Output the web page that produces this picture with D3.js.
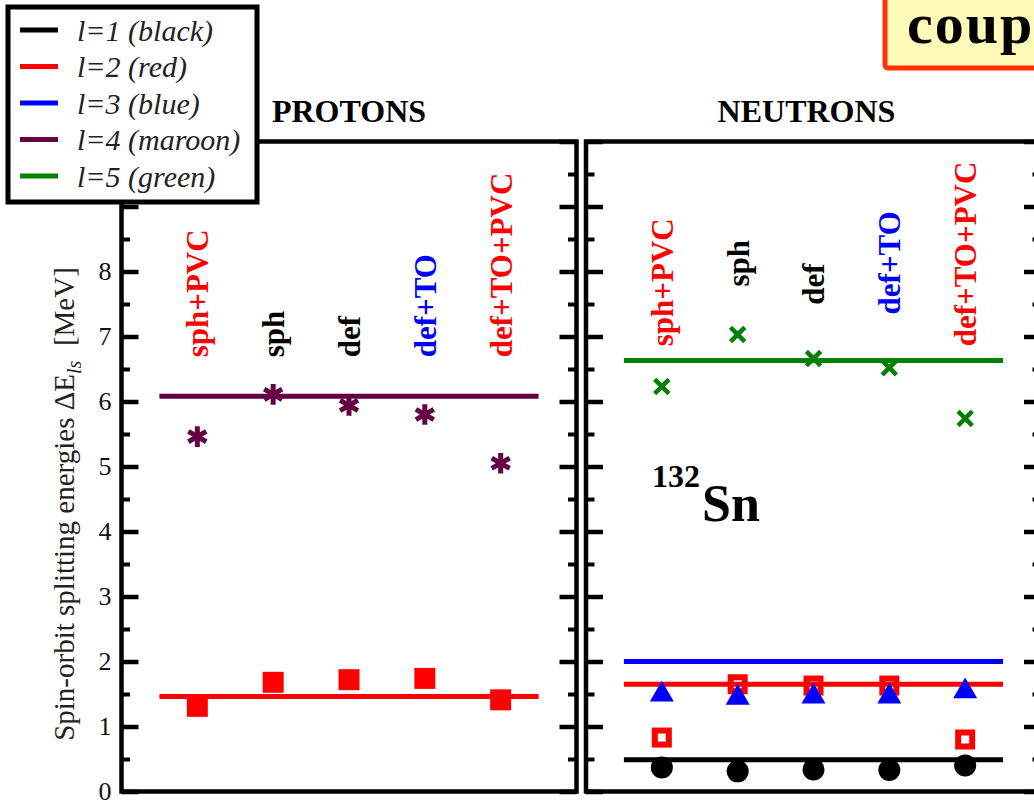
<!DOCTYPE html>
<meta charset="utf-8">
<title>132Sn spin-orbit splitting</title>
<style>

body { margin: 0; background: #fff; }

svg {
  display: block;
  font-family: "Liberation Serif", "Times New Roman", serif;
}

.frame {
  fill: none;
  stroke: #000;
  stroke-width: 4.5;
}

.axis path { display: none; }
.axis line { stroke: #000; stroke-width: 4.5; }
.axis.minor line { stroke-width: 4; }
.axis text {
  font-family: "Liberation Serif", serif;
  font-size: 26px;
  fill: #111;
}

.title { font-weight: bold; font-size: 32px; }
.method { font-weight: bold; font-size: 31px; }

</style>
<body>

<script src="https://d3js.org/d3.v7.min.js"></script>
<script>

// x categories (same for both panels)
var methods = ["sph+PVC", "sph", "def", "def+TO", "def+TO+PVC"];
var methodColors = ["#ff0000", "#000000", "#000000", "#0000ff", "#ff0000"];

// protons: spin-orbit splittings in MeV
var protonL4 = [5.46, 6.11, 5.94, 5.80, 5.05];
var protonL2 = [1.31, 1.68, 1.72, 1.74, 1.41];
var protonL4Exp = 6.08;
var protonL2Exp = 1.46;

// neutrons
var neutronL5 = [6.23, 7.03, 6.66, 6.52, 5.74];
var neutronL3 = [1.49, 1.44, 1.46, 1.46, 1.54];
var neutronL2 = [0.83, 1.65, 1.63, 1.63, 0.80];
var neutronL1 = [0.37, 0.31, 0.34, 0.33, 0.40];
var neutronL5Exp = 6.63;
var neutronL3Exp = 2.00;
var neutronL2Exp = 1.65;
var neutronL1Exp = 0.49;

// axis ticks
var majorTicks = [0, 1, 2, 3, 4, 5, 6, 7, 8, 9, 10];
var minorTicks = [0.5, 1.5, 2.5, 3.5, 4.5, 5.5, 6.5, 7.5, 8.5, 9.5];
var labelledTicks = [0, 1, 2, 3, 4, 5, 6, 7, 8];

// legend
var legendLabels = ["l=1 (black)", "l=2 (red)", "l=3 (blue)", "l=4 (maroon)", "l=5 (green)"];
var legendColors = ["#000000", "#ff0000", "#0000ff", "#660044", "#008000"];

var W = 1034, H = 803;
var panelWidth = 455;

var svg = d3.select("body").append("svg")
    .attr("width", W)
    .attr("height", H);

var y = d3.scaleLinear().domain([0, 10]).range([791.5, 141.5]);
var x = d3.scaleLinear().domain([0, 6]).range([0, panelWidth]);

function drawPanel(x0, title, titleX, labelBase, showLabels) {
  var g = svg.append("g").attr("transform", "translate(" + x0 + ",0)");

  // ticks on both sides, pointing inward
  g.append("g").attr("class", "axis")
      .call(d3.axisLeft(y).tickValues(majorTicks).tickSize(-17).tickPadding(10)
        .tickFormat(function(d) { return showLabels && labelledTicks.indexOf(d) >= 0 ? d : ""; }))
      .attr("font-family", "Liberation Serif, serif")
      .attr("font-size", 26);
  g.append("g").attr("class", "axis minor")
      .call(d3.axisLeft(y).tickValues(minorTicks).tickSize(-8.5).tickFormat(""));
  g.append("g").attr("class", "axis")
      .attr("transform", "translate(" + panelWidth + ",0)")
      .call(d3.axisRight(y).tickValues(majorTicks).tickSize(-17).tickFormat(""));
  g.append("g").attr("class", "axis minor")
      .attr("transform", "translate(" + panelWidth + ",0)")
      .call(d3.axisRight(y).tickValues(minorTicks).tickSize(-8.5).tickFormat(""));

  g.append("rect")
      .attr("class", "frame")
      .attr("x", 0)
      .attr("y", y(10))
      .attr("width", panelWidth)
      .attr("height", y(0) - y(10));

  g.append("text")
      .attr("class", "title")
      .attr("x", titleX)
      .attr("y", 122)
      .attr("text-anchor", "middle")
      .text(title);

  // method names, rotated
  g.selectAll(".method")
      .data(methods)
    .enter().append("text")
      .attr("class", "method")
      .attr("transform", function(d, i) {
        return "translate(" + x(i + 1) + "," + y(labelBase[i]) + ") rotate(-90)"; })
      .attr("dy", "0.35em")
      .style("fill", function(d, i) { return methodColors[i]; })
      .text(function(d) { return d; });

  return g;
}

function refLine(g, value, color) {
  g.append("line")
      .attr("x1", x(0.5))
      .attr("x2", x(5.5))
      .attr("y1", y(value))
      .attr("y2", y(value))
      .style("stroke", color)
      .style("stroke-width", 5);
}

function symbols(g, values, type, size, fill, stroke, sw) {
  g.append("g").selectAll("path")
      .data(values)
    .enter().append("path")
      .attr("transform", function(d, i) { return "translate(" + x(i + 1) + "," + y(d) + ")"; })
      .attr("d", d3.symbol().type(type).size(size))
      .style("fill", fill)
      .style("stroke", stroke)
      .style("stroke-width", sw);
}

// ---- protons
var pg = drawPanel(121.5, "PROTONS", panelWidth / 2, [6.68, 6.68, 6.68, 6.68, 6.68], true);
refLine(pg, protonL4Exp, "#660044");
refLine(pg, protonL2Exp, "#ff0000");
symbols(pg, protonL4, d3.symbolAsterisk, 300, "none", "#660044", 5);
symbols(pg, protonL2, d3.symbolSquare, 441, "#ff0000", "none", 0);

// ---- neutrons
var ng = drawPanel(586, "NEUTRONS", panelWidth / 2 - 7, [6.85, 7.77, 7.49, 7.34, 6.85], false);
refLine(ng, neutronL5Exp, "#008000");
refLine(ng, neutronL3Exp, "#0000ff");
refLine(ng, neutronL2Exp, "#ff0000");
refLine(ng, neutronL1Exp, "#000000");
symbols(ng, neutronL5, d3.symbolTimes, 135, "none", "#008000", 4.5);

ng.append("g").selectAll("rect")
    .data(neutronL2)
  .enter().append("rect")
    .attr("x", function(d, i) { return x(i + 1) - 7; })
    .attr("y", function(d) { return y(d) - 7; })
    .attr("width", 14)
    .attr("height", 14)
    .style("fill", "none")
    .style("stroke", "#ff0000")
    .style("stroke-width", 6);

symbols(ng, neutronL3, d3.symbolTriangle, 250, "#0000ff", "none", 0);

ng.append("g").selectAll("circle")
    .data(neutronL1)
  .enter().append("circle")
    .attr("cx", function(d, i) { return x(i + 1); })
    .attr("cy", function(d) { return y(d); })
    .attr("r", 11)
    .style("fill", "#000");

var nucl = ng.append("text")
    .attr("x", 66)
    .attr("y", 521)
    .style("font-weight", "bold");
nucl.append("tspan").attr("dy", -34).style("font-size", "32px").text("132");
nucl.append("tspan").attr("dx", 2).attr("dy", 34).style("font-size", "52px").text("Sn");

// ---- y axis title
var ylab = svg.append("text")
    .attr("transform", "translate(74,504) rotate(-90)")
    .attr("text-anchor", "middle")
    .style("font-size", "29px")
    .style("fill", "#222");
ylab.append("tspan").text("Spin-orbit splitting energies \u0394E");
ylab.append("tspan").attr("dy", 7).style("font-size", "20px").style("font-style", "italic").text("ls");
ylab.append("tspan").attr("dy", -7).text("\u00a0\u00a0[MeV]");

// ---- legend box on top
var lg = svg.append("g");
lg.append("rect")
    .attr("x", 8)
    .attr("y", 7)
    .attr("width", 249)
    .attr("height", 195)
    .style("fill", "#fff")
    .style("stroke", "#000")
    .style("stroke-width", 5);

var item = lg.selectAll(".item")
    .data(legendLabels)
  .enter().append("g")
    .attr("transform", function(d, i) { return "translate(0," + (30 + i * 36.5) + ")"; });
item.append("line")
    .attr("x1", 20).attr("x2", 58)
    .style("stroke", function(d, i) { return legendColors[i]; })
    .style("stroke-width", 5);
item.append("text")
    .attr("x", 77)
    .attr("dy", "0.35em")
    .style("font-style", "italic")
    .style("font-size", "30px")
    .style("fill", "#222")
    .text(function(d) { return d; });

// ---- "coupling" banner, cut at the page edge
svg.append("rect")
    .attr("x", 885)
    .attr("y", -10)
    .attr("width", 220)
    .attr("height", 78)
    .attr("rx", 3)
    .style("fill", "#fffab8")
    .style("stroke", "#ff3300")
    .style("stroke-width", 5);
svg.append("text")
    .attr("x", 907)
    .attr("y", 43)
    .style("font-weight", "bold")
    .style("font-size", "58px")
    .style("letter-spacing", "2px")
    .text("coupling");

</script>

</body>
